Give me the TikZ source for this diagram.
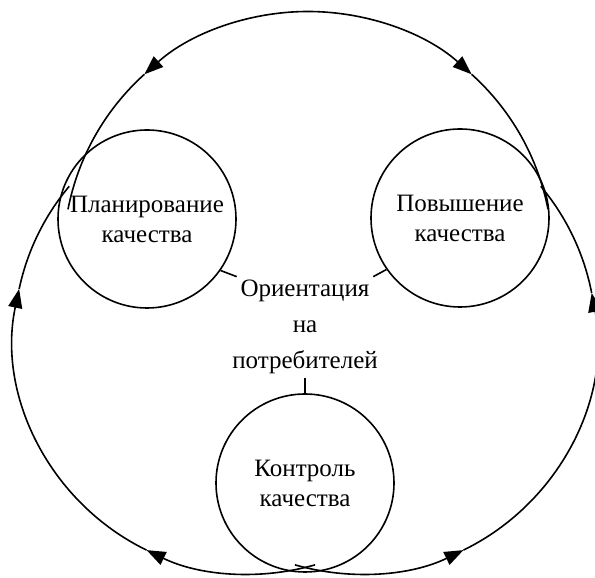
\documentclass[tikz,border=0pt]{standalone}
\usepackage{fontspec}
\setmainfont{Liberation Serif}
\usetikzlibrary{arrows.meta}
\begin{document}
\begin{tikzpicture}[x=0.5pt, y=0.5pt, line width=0.8pt,
  stage/.style={draw, circle, minimum size=89pt, inner sep=0pt, align=center, font=\fontsize{12.5}{15}\selectfont},
  caption/.style={inner sep=1.5pt, anchor=base, font=\fontsize{12.5}{15}\selectfont},
  flow/.style={-{Triangle[length=9.5pt, width=7pt]}}]
\useasboundingbox (0,0) rectangle (595,578);
\node[stage] (plan) at (147,359) {Планирование\\качества};
\node[stage] (impr) at (460,360) {Повышение\\качества};
\node[stage] (ctrl) at (305,95) {Контроль\\качества};
\node[caption] (ori) at (305,281) {Ориентация};
\node[caption] (na) at (305,245) {на};
\node[caption] (cons) at (305,209) {потребителей};
\draw (plan.-35) -- (ori.north west);
\draw (impr.215) -- (ori.north east);
\draw (cons.south) -- (ctrl.north);
\coordinate (topc) at (308,322);
\coordinate (leftc) at (250,240);
\coordinate (rightc) at (360,240);
\draw[flow] (topc) ++(90:244.5) arc[start angle=90, end angle=132, radius=244.5];
\draw (topc) ++(132:244.5) arc[start angle=132, end angle=169, radius=244.5];
\draw[flow] (topc) ++(90:244.5) arc[start angle=90, end angle=48, radius=244.5];
\draw (topc) ++(48:244.5) arc[start angle=48, end angle=11, radius=244.5];
\draw[flow] (leftc) ++(286:236) arc[start angle=286, end angle=244, radius=236];
\draw[flow] (leftc) ++(244:236) arc[start angle=244, end angle=168, radius=236];
\draw (leftc) ++(168:236) arc[start angle=168, end angle=140, radius=236];
\draw[flow] (rightc) ++(254:236) arc[start angle=254, end angle=296, radius=236];
\draw[flow] (rightc) ++(296:236) arc[start angle=296, end angle=371, radius=236];
\draw (rightc) ++(11:236) arc[start angle=11, end angle=40, radius=236];
\end{tikzpicture}
\end{document}
